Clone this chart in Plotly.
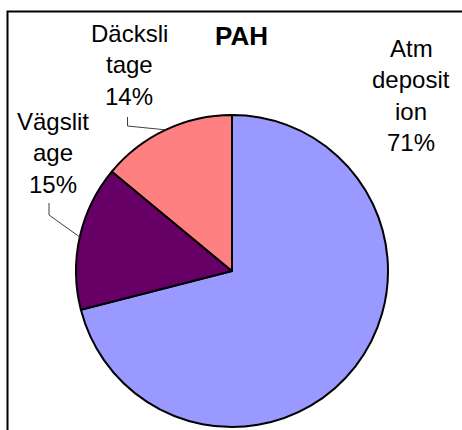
import math
import plotly.graph_objects as go

# -------- Data --------
labels = ["Atm deposition", "Vägslitage", "Däckslitage"]
values = [71, 15, 14]
label_lines = [["Atm", "deposit", "ion"], ["Vägslit", "age"], ["Däcksli", "tage"]]
colors = ["#9999FF", "#660066", "#FF8080"]

W, H = 462, 430
cx, cy, r = 232, 271, 156  # pie centre / radius in pixels


def px(x):
    return x / W


def py(y):
    return 1 - y / H


fig = go.Figure(go.Pie(
    labels=labels,
    values=values,
    sort=False,
    direction="clockwise",
    rotation=0,
    textinfo="none",
    hoverinfo="label+percent",
    marker=dict(colors=colors, line=dict(color="black", width=2)),
    domain=dict(x=[px(cx - r), px(cx + r)], y=[py(cy + r), py(cy - r)]),
    showlegend=False,
))

# -------- Labels (one annotation per line to get Excel-like spacing) --------
label_pos = [(411, 48), (53, 121), (129, 33)]  # centre of first line
line_gap = 31.5
total = sum(values)
font = dict(family="Liberation Sans, Arial", size=24, color="black")
annotations = []
for i, lines in enumerate(label_lines):
    x0, y0 = label_pos[i]
    pct = f"{round(values[i] / total * 100)}%"
    for j, t in enumerate(lines + [pct]):
        annotations.append(dict(
            x=px(x0), y=py(y0 + j * line_gap), xref="paper", yref="paper",
            text=t, showarrow=False, xanchor="center", yanchor="middle",
            font=font,
        ))

annotations.append(dict(
    x=px(241), y=py(36), xref="paper", yref="paper", text="<b>PAH</b>",
    showarrow=False, xanchor="center", yanchor="middle",
    font=dict(family="Liberation Sans, Arial", size=26, color="black"),
))

# -------- Leader lines (elbow from label down, then to slice edge) --------
shapes = []
cum = 0
mids = []
for v in values:
    mids.append((cum + v / 2) / total * 2 * math.pi)
    cum += v
elbows = {1: ((49, 203), (49, 215)), 2: ((127.5, 117), (127.5, 126))}
for i, (p0, p1) in elbows.items():
    ex = cx + r * math.sin(mids[i])
    ey = cy - r * math.cos(mids[i])
    path = f"M {px(p0[0])} {py(p0[1])} L {px(p1[0])} {py(p1[1])} L {px(ex)} {py(ey)}"
    shapes.append(dict(type="path", xref="paper", yref="paper", path=path,
                       line=dict(color="#404040", width=1)))

# chart frame: left and top edges visible
shapes.append(dict(type="path", xref="paper", yref="paper",
                   path=f"M {px(7.5)} {py(435)} L {px(7.5)} {py(11.5)} L {px(470)} {py(11.5)}",
                   line=dict(color="black", width=2)))

fig.update_layout(
    width=W, height=H,
    margin=dict(l=0, r=0, t=0, b=0),
    paper_bgcolor="white",
    plot_bgcolor="white",
    annotations=annotations,
    shapes=shapes,
)

fig.write_html("out.html", config={"displayModeBar": False},
               post_script="document.body.style.margin='0';")
